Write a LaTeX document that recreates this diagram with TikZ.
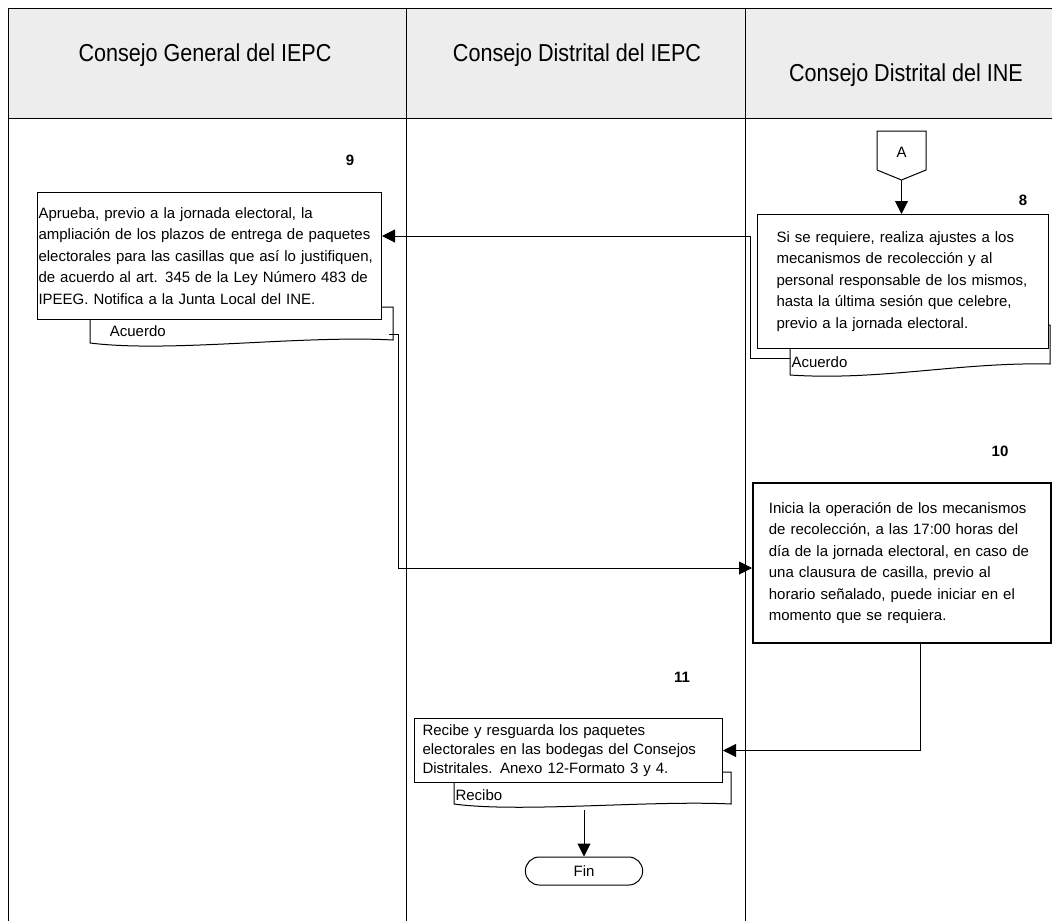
\documentclass[tikz,border=0pt]{standalone}
\usepackage{fontspec}
\setmainfont{Liberation Sans}
\newfontfamily\headfont[FakeStretch=0.88]{Liberation Sans}
\usepackage{tikz}
\usetikzlibrary{arrows.meta,shapes.misc}
\definecolor{headgray}{RGB}{237,237,237}
\hyphenpenalty=10000
\exhyphenpenalty=10000

\begin{document}
\begin{tikzpicture}[x=1pt, y=-1pt, line width=1pt,
	txt/.style={font=\fontsize{15}{21.5}\selectfont},
	box/.style={draw, fill=white, txt, align=left, anchor=north west, inner ysep=0pt},
	num/.style={font=\fontsize{15}{15}\selectfont\bfseries},
	head/.style={font=\headfont\fontsize{24.5}{24.5}\selectfont, anchor=base},
	doc/.style={draw, fill=white},
	arr/.style={-{Triangle[length=13pt,width=13pt]}}]
	\useasboundingbox (0,0) rectangle (1052,921);
	% encabezado de columnas
	\fill[headgray] (8,8) rectangle (1052,118);
	\draw (8,8) -- (1052,8);
	\draw (8,118) -- (1052,118);
	\draw (8,8) -- (8,921);
	\draw (406,8) -- (406,921);
	\draw (745,8) -- (745,921);
	\node[head] (cg) at (205,61) {Consejo General del IEPC};
	\node[head] (cdi) at (577,61) {Consejo Distrital del IEPC};
	\node[head] (cdn) at (906,81) {Consejo Distrital del INE};

	% conector A
	\draw[fill=white] (877,131) -- (926,131) -- (926,170) -- (901.5,180) -- (877,170) -- cycle;
	\node[font=\fontsize{15}{15}\selectfont] (A) at (901.5,152) {A};
	\coordinate (Apt) at (901.5,180);

	% paso 8
	\node[num] (n8) at (1023,200) {8};
	\draw[doc] (790,325) -- (790,375) .. controls (880,381) and (960,362) .. (1050,364) -- (1050,325) -- cycle;
	\node[txt, anchor=west, inner xsep=1pt] (d8) at (790,362) {Acuerdo};
	\coordinate (d8w) at (790,358);
	\node[box, text width=253pt, inner xsep=19pt, minimum height=134pt] (b8) at (757,214)
		{Si se requiere, realiza ajustes a los\\ mecanismos de recolección y al\\ personal responsable de los mismos,\\ hasta la última sesión que celebre,\\ previo a la jornada electoral.};

	% paso 9
	\node[num] (n9) at (350,160) {9};
	\draw[doc] (90,307) -- (90,343) .. controls (170,353) and (300,335) .. (393,340) -- (393,307) -- cycle;
	\node[txt, anchor=west] (d9) at (106,331) {Acuerdo};
	\coordinate (d9e) at (389,334);
	\node[box, text width=342pt, inner xsep=1pt, minimum height=127pt] (b9) at (37,192)
		{Aprueba, previo a la jornada electoral, la\\ ampliación de los plazos de entrega de paquetes\\ electorales para las casillas que así lo justifiquen,\\ de acuerdo al art. 345 de la Ley Número 483 de\\ IPEEG. Notifica a la Junta Local del INE.};

	% paso 10
	\node[num] (n10) at (1000,451) {10};
	\node[box, line width=1.8pt, text width=266pt, inner xsep=16pt, minimum height=160pt] (b10) at (752,482)
		{Inicia la operación de los mecanismos\\ de recolección, a las 17:00 horas del\\ día de la jornada electoral, en caso de\\ una clausura de casilla, previo al\\ horario señalado, puede iniciar en el\\ momento que se requiera.};
	\coordinate (t10) at (920,747);

	% paso 11
	\node[num] (n11) at (682,677) {11};
	\draw[doc] (454,772) -- (454,804) .. controls (520,813) and (650,800) .. (731,804) -- (731,772) -- cycle;
	\node[txt, anchor=west, inner xsep=1pt] (d11) at (454,795) {Recibo};
	\coordinate (d11s) at (584,810);
	\node[box, font=\fontsize{15}{19}\selectfont, text width=292pt, inner xsep=8pt, minimum height=64pt] (b11) at (414,718)
		{Recibe y resguarda los paquetes\\ electorales en las bodegas del Consejos\\ Distritales. Anexo 12-Formato 3 y 4.};

	% fin
	\node[draw, rounded rectangle, minimum width=124pt, minimum height=28pt, txt] (fin) at (584,871) {Fin};

	% conectores
	\draw[arr] (Apt) -- (Apt |- b8.north);
	\draw[arr] (d8w) -| (750,236) -- (b9.east |- 0,236);
	\draw[arr] (d9e) -| (398,568) -- (b10.west |- 0,568);
	\draw[arr] (b10.south -| t10) |- (b11.east);
	\draw[arr] (d11s) -- (fin.north);
\end{tikzpicture}
\end{document}
